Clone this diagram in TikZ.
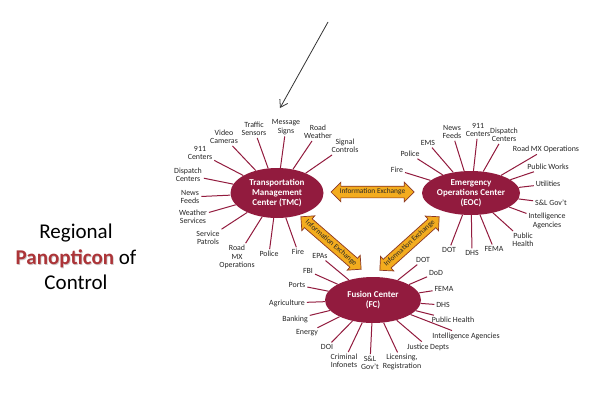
\documentclass[tikz,border=0pt]{standalone}
\usepackage{fontspec}
\setmainfont{Carlito}
\usepackage{xcolor}
\usetikzlibrary{shapes.geometric,shapes.arrows,arrows.meta}

\definecolor{hubred}{RGB}{146,27,62}
\definecolor{xchgfill}{RGB}{243,172,30}
\definecolor{xchgline}{RGB}{140,55,35}
\definecolor{panored}{RGB}{172,52,56}
\definecolor{panoshadow}{RGB}{205,195,195}

\tikzset{
  hub/.style={ellipse, fill=hubred, text=white, inner sep=0pt, align=center,
    font=\fontsize{9}{10}\selectfont\bfseries},
  lbl/.style={align=center, inner sep=1.8pt, text=black!85,
    font=\fontsize{7.9}{8.4}\selectfont},
  spoke/.style={draw=hubred, line width=1pt},
  xchg/.style={double arrow, draw=xchgline, fill=xchgfill, line width=0.7pt,
    double arrow head extend=4pt, double arrow head indent=0pt,
    inner xsep=1pt, inner ysep=2.2pt, text height=5.2pt, text depth=1.4pt,
    font=\fontsize{7.4}{8}\selectfont, text=black!85}
}

\begin{document}
\begin{tikzpicture}[x=1pt, y=-1pt]
  \useasboundingbox[fill=white] (0,0) rectangle (593,401);
  % Title at left
  \node[align=center, font=\fontsize{21}{25.5}\selectfont] (title) at (76,257)
    {Regional\\{\bfseries\rlap{\kern0.8pt\raisebox{-0.8pt}{\textcolor{panoshadow}{Panopticon}}}\textcolor{panored}{Panopticon}}~of\\Control};
  % Pointer arrow
  \coordinate (pointer-start) at (328,22);
  \coordinate (pointer-end) at (280,108);
  \draw[black!80, line width=0.8pt, -{Straight Barb[length=7pt,width=9pt]}] (pointer-start) -- (pointer-end);
  % Hubs
  \node[hub, minimum width=93pt, minimum height=50pt] (tmc) at (277,193) {Transportation\\Management\\Center (TMC)};
  \node[hub, minimum width=98pt, minimum height=44pt] (eoc) at (471,193) {Emergency\\Operations Center\\(EOC)};
  \node[hub, minimum width=96pt, minimum height=46pt] (fc) at (373,300) {Fusion Center\\(FC)};
  % TMC spokes
  \foreach \n/\p/\t in {traffic/{254,129}/{Traffic\\Sensors}, message/{286,127}/{Message\\Signs},
      roadwx/{318,132}/{Road\\Weather}, video/{224,137}/{Video\\Cameras},
      signal/{345,146}/{Signal\\Controls}, ctr911/{200,153}/{911\\Centers},
      dispatch/{188,175}/{Dispatch\\Centers}, news/{190,197}/{News\\Feeds},
      weather/{193,217}/{Weather\\Services}, patrols/{208,238}/{Service\\Patrols},
      roadmx/{237,257}/{Road\\MX\\Operations}, police/{269,254}/{Police}, fire/{298,252}/{Fire}} {
    \node[lbl] (tmc-\n) at (\p) {\t};
    \draw[spoke] (tmc) -- (tmc-\n);
  }
  % EOC spokes
  \foreach \n/\p/\t in {fire/{397,170}/{Fire}, police/{410,154}/{Police}, ems/{428,143}/{EMS},
      news/{452,132}/{News\\Feeds}, ctr911/{478,130}/{911\\Centers},
      dispatch/{504,135}/{Dispatch\\Centers}, roadmx/{546,149}/{Road MX Operations},
      works/{548,167}/{Public Works}, util/{548,184}/{Utilities}, slgov/{551,203}/{S\&L Gov't},
      intel/{547,221}/{Intelligence\\Agencies}, health/{523,240}/{Public\\Health},
      fema/{494,249}/{FEMA}, dhs/{472,253}/{DHS}, dot/{449,250}/{DOT}} {
    \node[lbl] (eoc-\n) at (\p) {\t};
    \draw[spoke] (eoc) -- (eoc-\n);
  }
  % FC spokes
  \foreach \n/\p/\t in {epas/{320,256}/{EPAs}, fbi/{308,271}/{FBI}, ports/{297,285}/{Ports},
      agri/{287,303}/{Agriculture}, banking/{295,319}/{Banking}, energy/{307,333}/{Energy},
      doi/{327,347}/{DOI}, infonets/{344,361}/{Criminal\\Infonets}, slgov/{370,363}/{S\&L\\Gov't},
      licensing/{402,362}/{Licensing,\\Registration}, justice/{428,347}/{Justice Depts},
      intel/{466,336}/{Intelligence Agencies}, health/{453,320}/{Public Health},
      dhs/{443,305}/{DHS}, fema/{444,289}/{FEMA}, dod/{436,273}/{DoD}, dot/{423,260}/{DOT}} {
    \node[lbl] (fc-\n) at (\p) {\t};
    \draw[spoke] (fc) -- (fc-\n);
  }
  % Information exchange arrows
  \node[xchg, minimum height=83pt] (tmc-eoc) at (372.5,192) {Information Exchange};
  \node[xchg, minimum height=77pt, rotate=-41] (tmc-fc) at (331,243) {Information Exchange};
  \node[xchg, minimum height=77pt, rotate=42] (eoc-fc) at (409.5,243.5) {Information Exchange};
\end{tikzpicture}
\end{document}
